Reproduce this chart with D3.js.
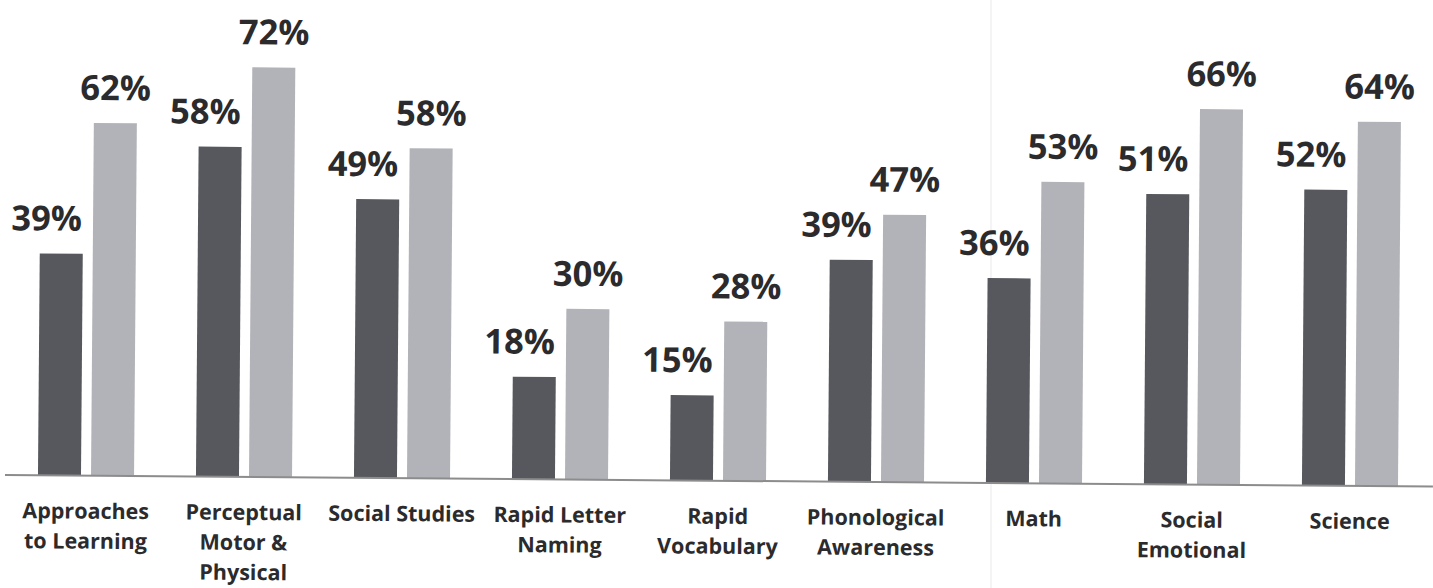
<!DOCTYPE html>
<html>
<head>
<meta charset="utf-8">
<script src="https://cdn.jsdelivr.net/npm/d3@7"></script>
<style>
html,body{margin:0;padding:0;background:#fff;}
svg{display:block;}
</style>
</head>
<body>
<script>
const categories = [
  ["Approaches","to Learning"],
  ["Perceptual","Motor &","Physical"],
  ["Social Studies"],
  ["Rapid Letter","Naming"],
  ["Rapid","Vocabulary"],
  ["Phonological","Awareness"],
  ["Math"],
  ["Social","Emotional"],
  ["Science"]
];
const seriesNames = ["dark","light"];
const darkValues  = [39, 58, 49, 18, 15, 39, 36, 51, 52];
const lightValues = [62, 72, 58, 30, 28, 47, 53, 66, 64];
const colors = {dark:"#56585d", light:"#b2b3b8"};

const W = 1433, H = 588;
const baseY = 475;
const svg = d3.select("body").append("svg").attr("width", W).attr("height", H);

// faint scan fold line
svg.append("line").attr("x1",991).attr("x2",991).attr("y1",0).attr("y2",H)
  .attr("stroke","#f1f1f1").attr("stroke-width",1.5);

const g = svg.append("g").attr("transform", `rotate(0.46, 0, ${baseY})`);

const catKeys = categories.map(c => c.join(" "));
const x0 = d3.scaleBand().domain(catKeys).range([7, 1429]).paddingInner(0.392).paddingOuter(0.196);
const x1 = d3.scaleBand().domain(seriesNames).range([0, x0.bandwidth()]).paddingInner(0.189);
const y = d3.scaleLinear().domain([0, 80]).range([baseY, baseY - 80*5.69]);

const rows = catKeys.map((k,i) => ({key:k, lines:categories[i], dark:darkValues[i], light:lightValues[i]}));

const groups = g.selectAll("g.grp").data(rows).join("g").attr("class","grp")
  .attr("transform", d => `translate(${x0(d.key)},0)`);

groups.selectAll("rect").data(d => seriesNames.map(s => ({s, v:d[s]}))).join("rect")
  .attr("x", d => x1(d.s)).attr("width", x1.bandwidth())
  .attr("y", d => y(d.v)).attr("height", d => y(0) - y(d.v))
  .attr("fill", d => colors[d.s]);

groups.selectAll("text.val").data(d => seriesNames.map(s => ({s, v:d[s]}))).join("text")
  .attr("class","val")
  .attr("x", d => x1(d.s) + x1.bandwidth()/2 + (d.s === "dark" ? -15 : 0))
  .attr("y", d => y(d.v) - 23)
  .attr("text-anchor","middle")
  .attr("font-family","'Open Sans', sans-serif").attr("font-weight",700)
  .attr("font-size",34.5).attr("fill","#2b2b2d")
  .text(d => d.v + "%");

// axis line
g.append("line").attr("x1",5).attr("x2",1433).attr("y1",y(0)).attr("y2",y(0))
  .attr("stroke","#8c8c8c").attr("stroke-width",2);

// category labels
const lab = groups.append("text")
  .attr("text-anchor","middle")
  .attr("font-family","'Open Sans', sans-serif").attr("font-weight",700)
  .attr("font-size",21.5).attr("fill","#2b2b2d");
lab.selectAll("tspan").data(d => d.lines).join("tspan")
  .attr("x", x0.bandwidth()/2)
  .attr("y", (d,i) => baseY + 43 + i*30)
  .text(d => d);
</script>
</body>
</html>
